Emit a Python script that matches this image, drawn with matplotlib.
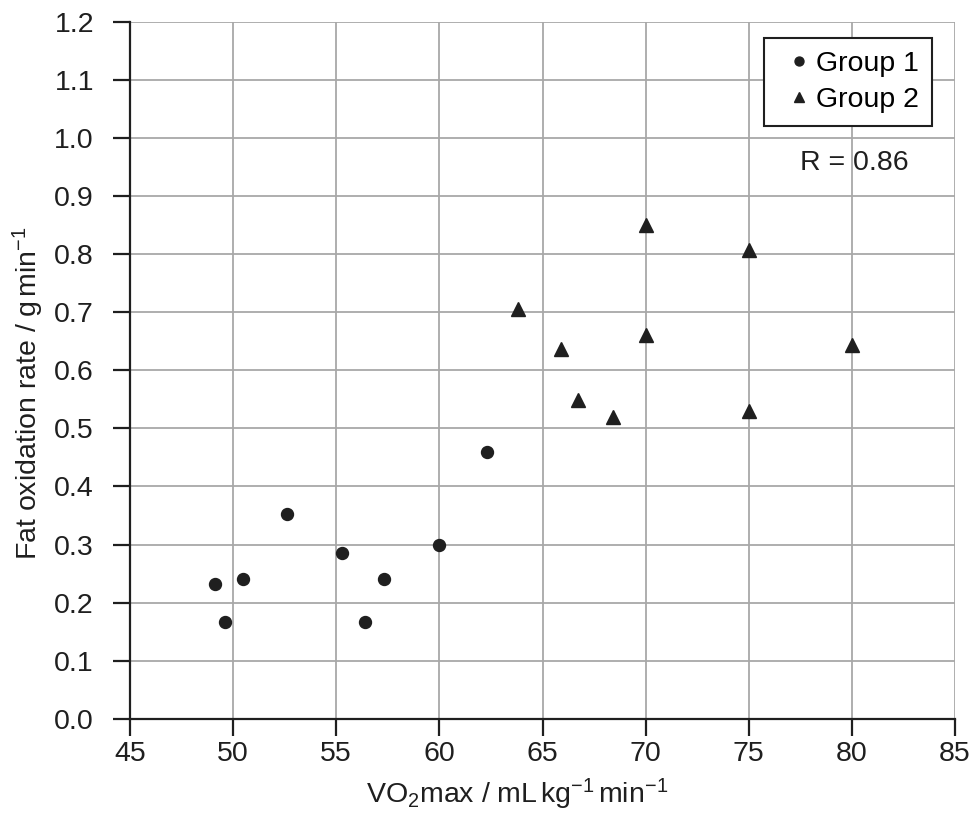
import matplotlib
matplotlib.use('Agg')
import matplotlib.pyplot as plt

plt.rcParams['font.family'] = ['Liberation Sans', 'DejaVu Sans']
plt.rcParams['mathtext.fontset'] = 'custom'
plt.rcParams['mathtext.rm'] = 'Liberation Sans'
plt.rcParams['mathtext.it'] = 'Liberation Sans:italic'

# group 1 (circles)
g1_x = [49.1, 49.6, 50.5, 52.6, 55.3, 56.4, 57.3, 60.0, 62.3]
g1_y = [0.232, 0.167, 0.240, 0.352, 0.286, 0.167, 0.240, 0.300, 0.460]
# group 2 (triangles)
g2_x = [63.8, 65.9, 66.7, 68.4, 70.0, 70.0, 75.0, 75.0, 80.0]
g2_y = [0.706, 0.637, 0.549, 0.519, 0.851, 0.660, 0.807, 0.530, 0.643]

xticks = [45, 50, 55, 60, 65, 70, 75, 80, 85]
yticks = [0.0, 0.1, 0.2, 0.3, 0.4, 0.5, 0.6, 0.7, 0.8, 0.9, 1.0, 1.1, 1.2]

ink = '#1f1f1f'
fs = 20.5
fig = plt.figure(figsize=(9.76, 8.14), dpi=100)
ax = fig.add_axes([0.1332, 0.1171, 0.8453, 0.8559])

ax.plot(g1_x, g1_y, 'o', color=ink, markersize=8.6, label='Group 1', zorder=3)
ax.plot(g2_x, g2_y, '^', color=ink, markersize=9.5, label='Group 2', zorder=3)

ax.set_xlim(45, 85)
ax.set_ylim(0, 1.2)
ax.set_xticks(xticks)
ax.set_yticks(yticks)
ax.set_xticklabels([str(v) for v in xticks])
ax.set_yticklabels(['%.1f' % v for v in yticks])
ax.grid(True, color='#a8a8a8', linewidth=1.3, zorder=0)
ax.set_axisbelow(True)

for s in ['top', 'right']:
    ax.spines[s].set_visible(False)
for s in ['left', 'bottom']:
    ax.spines[s].set_linewidth(1.6)
    ax.spines[s].set_color(ink)
ax.tick_params(direction='out', length=12, width=1.6, color=ink,
               labelsize=fs, labelcolor=ink)
ax.tick_params(axis='x', pad=4)
ax.tick_params(axis='y', pad=14)

ax.set_xlabel(r'VO$_2$max / mL$\,$kg$^{-1}$$\,$min$^{-1}$', fontsize=fs, color=ink)
ax.set_ylabel(r'Fat oxidation rate / g$\,$min$^{-1}$', fontsize=fs, color=ink)
ax.xaxis.set_label_coords(517.5 / 976, (814 - 803) / 814, transform=fig.transFigure)
ax.xaxis.label.set_verticalalignment('baseline')
ax.yaxis.set_label_coords(37 / 976, (814 - 393.5) / 814, transform=fig.transFigure)
ax.yaxis.label.set_verticalalignment('baseline')

leg = ax.legend(loc='upper right', bbox_to_anchor=(0.972, 0.977), fontsize=fs,
                markerscale=0.75, handlelength=1.6, handletextpad=-0.2,
                fancybox=False, framealpha=1, borderpad=0.45, labelspacing=0.35,
                borderaxespad=0)
leg.get_frame().set_edgecolor(ink)
leg.get_frame().set_linewidth(1.5)

ax.text(0.878, 0.7876, 'R = 0.86', transform=ax.transAxes, fontsize=fs,
        color=ink, ha='center', va='baseline')

fig.savefig('out.png', dpi=100)
